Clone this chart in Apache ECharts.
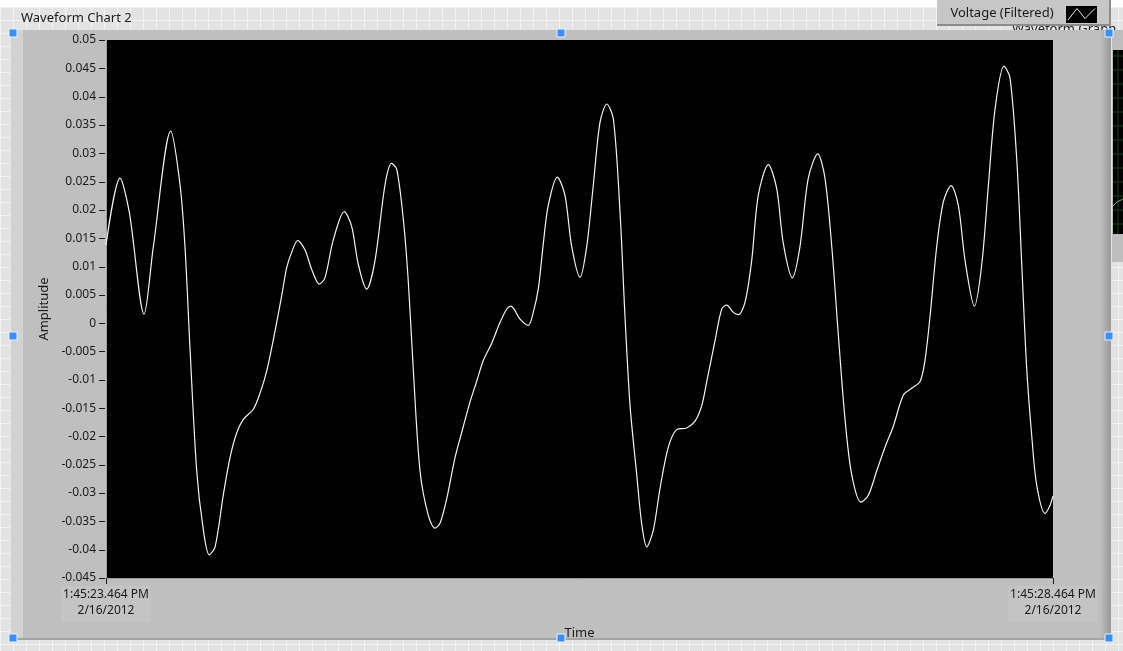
<!DOCTYPE html>
<html>
<head>
<meta charset="utf-8">
<script src="https://cdn.jsdelivr.net/npm/echarts@6/dist/echarts.min.js"></script>
<style>
html,body{margin:0;padding:0;width:1123px;height:651px;overflow:hidden;background:#ffffff;}
#bg{position:absolute;left:0;top:7px;width:1123px;height:644px;background-color:#e3e3e3;
background-image:linear-gradient(to right,#f3f3f3 1px,transparent 1px),linear-gradient(to bottom,#f3f3f3 1px,transparent 1px);
background-size:13px 13px;}
#chart{position:absolute;left:0;top:0;width:1123px;height:651px;}
</style>
</head>
<body>
<div id="bg"></div>
<div id="chart"></div>
<script>
// Sample times (seconds after 1:45:23.464 PM)
const sampleTimes = [
  0.000,0.074,0.123,0.201,0.250,0.342,0.391,0.417,0.444,0.479,
  0.514,0.545,0.576,0.619,0.655,0.690,0.725,0.778,0.813,0.848,
  0.883,0.928,0.954,0.980,1.012,1.051,1.086,1.126,1.156,1.200,
  1.258,1.297,1.332,1.376,1.420,1.473,1.508,1.535,1.570,1.596,
  1.622,1.658,1.702,1.737,1.764,1.799,1.843,1.887,1.922,1.957,
  1.992,2.036,2.080,2.116,2.138,2.186,2.230,2.256,2.283,2.309,
  2.335,2.383,2.423,2.459,2.503,2.538,2.573,2.608,2.644,2.679,
  2.714,2.740,2.767,2.802,2.828,2.855,2.890,2.925,2.969,3.013,
  3.066,3.110,3.145,3.172,3.216,3.251,3.277,3.312,3.339,3.374,
  3.409,3.444,3.497,3.541,3.576,3.624,3.664,3.708,3.758,3.796,
  3.832,3.866,3.902,3.937,3.986,4.025,4.069,4.113,4.157,4.210,
  4.254,4.298,4.324,4.351,4.386,4.421,4.462,4.500,4.536,4.585,
  4.624,4.659,4.694,4.741,4.773,4.809,4.835,4.861,4.888,4.914,
  4.958,4.984,5.000
];
// Voltage (Filtered) amplitude
const amplitude = [
  0.0138,0.0256,0.0196,0.0016,0.0135,0.0339,0.0244,0.0135,-0.0048,-0.0261,
  -0.0365,-0.0409,-0.0395,-0.0304,-0.0237,-0.0194,-0.0170,-0.0152,-0.0124,-0.0085,
  -0.0030,0.0049,0.0098,0.0125,0.0146,0.0129,0.0095,0.0069,0.0080,0.0147,
  0.0197,0.0171,0.0104,0.0060,0.0110,0.0244,0.0282,0.0272,0.0183,0.0074,
  -0.0079,-0.0261,-0.0340,-0.0362,-0.0353,-0.0310,-0.0237,-0.0182,-0.0139,-0.0103,
  -0.0066,-0.0036,0.0001,0.0025,0.0030,0.0007,-0.0004,0.0019,0.0062,0.0141,
  0.0208,0.0258,0.0226,0.0135,0.0081,0.0135,0.0244,0.0354,0.0387,0.0360,
  0.0196,0.0013,-0.0146,-0.0267,-0.0353,-0.0395,-0.0365,-0.0292,-0.0219,-0.0188,
  -0.0185,-0.0173,-0.0146,-0.0103,-0.0030,0.0025,0.0032,0.0019,0.0015,0.0037,
  0.0110,0.0226,0.0280,0.0238,0.0141,0.0080,0.0135,0.0256,0.0299,0.0256,
  0.0135,-0.0018,-0.0170,-0.0267,-0.0316,-0.0304,-0.0261,-0.0219,-0.0182,-0.0127,
  -0.0115,-0.0103,-0.0066,0.0013,0.0135,0.0214,0.0243,0.0208,0.0110,0.0030,
  0.0104,0.0244,0.0378,0.0454,0.0433,0.0287,0.0104,-0.0079,-0.0200,-0.0286,
  -0.0336,-0.0322,-0.0305
];
const xTickValues = [0, 5];
const xTickLabels = ['1:45:23.464 PM\n2/16/2012', '1:45:28.464 PM\n2/16/2012'];
const yMin = -0.045, yMax = 0.05, yStep = 0.005;
const yTickValues = [];
for (let k = 0; k <= Math.round((yMax - yMin) / yStep); k++) yTickValues.push(+(yMin + k * yStep).toFixed(3));

const FONT = '"Noto Sans", "Open Sans", sans-serif';
const chart = echarts.init(document.getElementById('chart'));

function handle(cx, cy) {
  return {type:'rect', z:100, shape:{x:cx-4, y:cy-4, width:8, height:8},
    style:{fill:'#3b8ff2', stroke:'#e8f2ff', lineWidth:1}};
}

const option = {
  backgroundColor: 'transparent',
  animation: false,
  grid: {left:106, top:40, width:947, height:538, show:true, backgroundColor:'#000000', borderWidth:0},
  xAxis: {
    type:'value', min:0, max:5, interval:5,
    axisLine:{show:true, onZero:false, lineStyle:{color:'#9c9c9c', width:1}},
    splitLine:{show:false},
    axisTick:{show:true, length:6, lineStyle:{color:'#1a1a1a', width:1}},
    axisLabel:{
      margin:8, color:'#1a1a1a', fontFamily:FONT, fontSize:12, lineHeight:16,
      backgroundColor:'#c4c4c4', padding:[1,2,3,2],
      formatter: v => { const i = xTickValues.indexOf(v); return i >= 0 ? xTickLabels[i] : ''; }
    },
    name:'Time', nameLocation:'middle', nameGap:45,
    nameTextStyle:{color:'#1a1a1a', fontFamily:FONT, fontSize:13, verticalAlign:'top'}
  },
  yAxis: {
    type:'value', min:yMin, max:yMax, interval:yStep,
    axisLine:{show:true, onZero:false, lineStyle:{color:'#9c9c9c', width:1}},
    splitLine:{show:false},
    axisTick:{show:false},
    axisLabel:{margin:10, color:'#1a1a1a', fontFamily:FONT, fontSize:12,
      formatter: v => String(+(+v).toFixed(3))},
    name:'Amplitude', nameLocation:'middle', nameGap:50, nameRotate:90,
    nameTextStyle:{color:'#1a1a1a', fontFamily:FONT, fontSize:13}
  },
  series: [{
    type:'line', name:'Voltage (Filtered)',
    data: sampleTimes.map((t,i) => [t, amplitude[i]]),
    showSymbol:false, smooth:0.3,
    lineStyle:{color:'#f4f4f4', width:1.2}
  }, {
    type:'custom', name:'yTicks', silent:true, clip:false, z:100,
    coordinateSystem:'cartesian2d',
    data: yTickValues.map(v => [0, v]),
    renderItem: function (params, api) {
      const p = api.coord([0, api.value(1)]);
      const yy = Math.round(p[1]) + 0.5;
      return {type:'line', z2:100, shape:{x1:p[0]-7, y1:yy, x2:p[0]-1, y2:yy}, style:{stroke:'#1a1a1a', lineWidth:1}};
    }
  }],
  graphic: [
    {type:'text', z:-3, x:1012, y:23, style:{text:'Waveform Graph', font:'13px ' + FONT, fill:'#222'}},
    {type:'rect', z:-2, shape:{x:10, y:30, width:1101, height:610}, style:{fill:'#bfbfbf'}},
    {type:'rect', z:-2, shape:{x:10, y:30, width:13, height:610}, style:{fill:'#d2d2d2'}},
    {type:'rect', z:-2, shape:{x:10, y:30, width:1, height:610}, style:{fill:'#e6e6e6'}},
    {type:'rect', z:-2, shape:{x:1100, y:30, width:11, height:610},
      style:{fill:new echarts.graphic.LinearGradient(0,0,1,0,[{offset:0,color:'#bfbfbf'},{offset:1,color:'#979797'}])}},
    {type:'rect', z:-2, shape:{x:10, y:638, width:1101, height:2}, style:{fill:'#a4a4a4'}},
    {type:'rect', z:-2, shape:{x:1112, y:30, width:11, height:232}, style:{fill:'#bdbdbd'}},
    {type:'rect', z:-2, shape:{x:1113, y:50, width:10, height:184}, style:{fill:'#000'}},
    {type:'group', z:-2, children: [48,62,76,90,104,118,132,146,160,174,188,202,216].map(yy => ({
      type:'line', z:-2, shape:{x1:1113, y1:yy+8, x2:1123, y2:yy+8}, style:{stroke:'#0c4a0c', lineWidth:1}}))},
    {type:'line', z:-2, shape:{x1:1118, y1:50, x2:1118, y2:234}, style:{stroke:'#0c4a0c', lineWidth:1}},
    {type:'polyline', z:-1, shape:{points:[[1113,206],[1117,202],[1123,199]]}, style:{stroke:'#5fc85f', lineWidth:1, fill:null}},
    {type:'rect', z:50, shape:{x:937, y:0, width:174, height:26}, style:{fill:'#8c8c8c'}},
    {type:'rect', z:51, shape:{x:937, y:0, width:172, height:24}, style:{fill:'#c6c6c6'}},
    {type:'text', z:52, x:1002, y:13, style:{text:'Voltage (Filtered)', font:'13px ' + FONT, fill:'#1a1a1a', align:'center', verticalAlign:'middle'}},
    {type:'rect', z:52, shape:{x:1066, y:6, width:31, height:17}, style:{fill:'#000'}},
    {type:'polyline', z:53, shape:{points:[[1068,20],[1077,8.5],[1085,18.5],[1095,8.5]]}, style:{stroke:'#e8e8e8', lineWidth:1, fill:null}},
    {type:'text', z:52, x:21, y:18, style:{text:'Waveform Chart 2', font:'13px ' + FONT, fill:'#1a1a1a', verticalAlign:'middle'}},
    handle(13,33), handle(561,33), handle(1109,33),
    handle(13,336), handle(1109,336),
    handle(13,638), handle(561,638), handle(1109,638)
  ]
};
chart.setOption(option);
</script>
</body>
</html>
